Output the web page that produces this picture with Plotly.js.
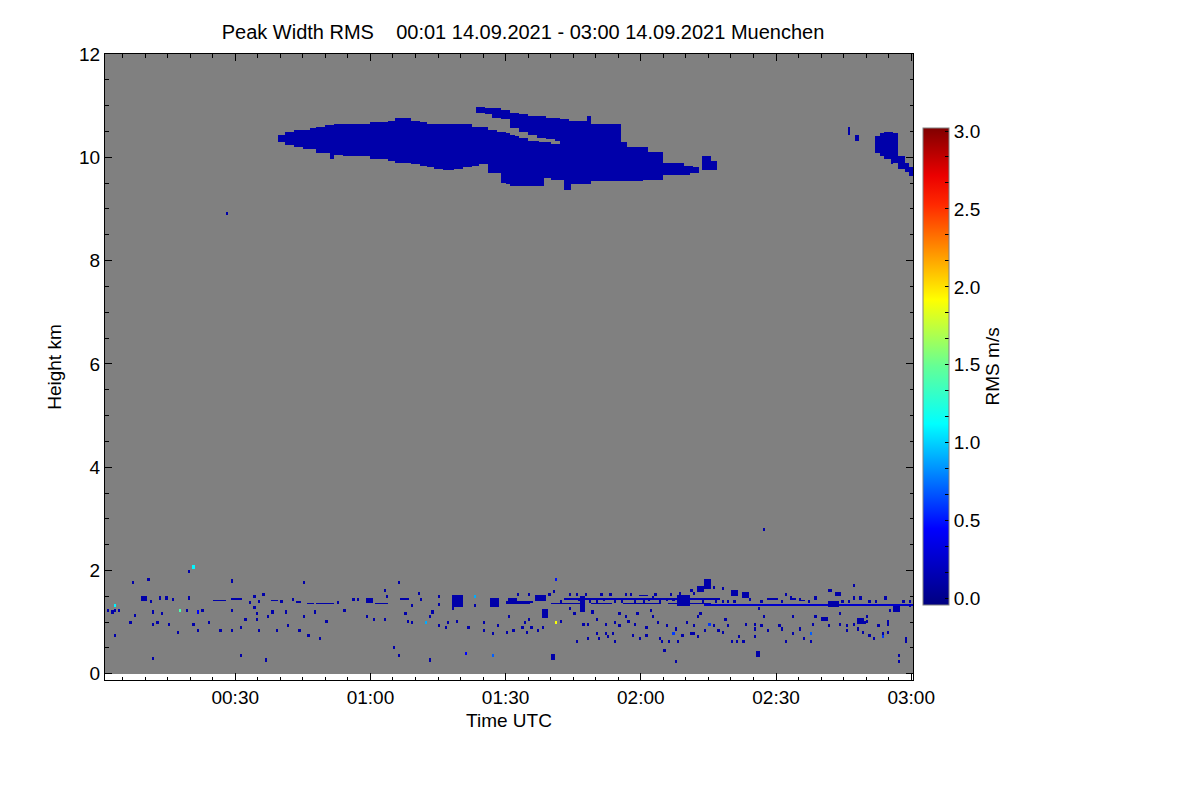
<!DOCTYPE html>
<html>
<head>
<meta charset="utf-8">
<script src="https://cdn.plot.ly/plotly-3.0.1.min.js"></script>
<style>html,body{margin:0;padding:0;background:#fff}#chart{width:1200px;height:800px}</style>
</head>
<body>
<div id="chart"></div>
<script>
// ---------------- grid of the measurement (minutes after 00:00 UTC, km) ----------------
const timeStart = 1.0, timeEnd = 180.5, timeStep = 0.5;
const heightStart = 0, heightEnd = 12, heightStep = 0.03;

// ---------------- axis tick labels ----------------
const timeTickVals = [30, 60, 90, 120, 150, 180];
const timeTickText = ['00:30', '01:00', '01:30', '02:00', '02:30', '03:00'];
const heightTickVals = [0, 2, 4, 6, 8, 10, 12];
const rmsTickMajor = [0, 0.5, 1.0, 1.5, 2.0, 2.5, 3.0];

// ---------------- cirrus layer near 10 km (step table: valid from T[i] to T[i+1]) ----------------
const cloudValue = 0.12;
const mainT    = [39.5, 41, 43, 45, 46.5, 48, 50, 50.8, 52, 54, 60, 62, 64, 65.5, 69, 71, 72.5, 74, 76, 78.5, 80.5, 82.5, 84, 85.8, 86.6, 88, 88.8, 90, 91, 92, 93, 94, 95, 96, 97.7, 98.3, 100, 102, 102.8, 104, 104.3, 107.9, 109.2, 115.4, 117, 120.6, 121.4, 125, 129.4, 131, 131.5, 133.2, 133.7, 135.5];
const mainBase = [10.30, 10.25, 10.20, 10.19, 10.17, 10.10, 10.08, 9.98, 10.06, 10.04, 9.98, 9.96, 9.95, 9.92, 9.88, 9.85, 9.81, 9.79, 9.77, 9.79, 9.83, 9.85, 9.88, 9.69, 9.69, 9.69, 9.52, 9.50, 9.46, 9.46, 9.46, 9.46, 9.46, 9.46, 9.46, 9.60, 9.59, 9.58, 9.36, 9.36, 9.48, 9.48, 9.56, 9.56, 9.56, 9.59, 9.59, 9.67, 9.67, 9.71, 9.71, null, 9.75, 9.75];
const mainTop  = [10.42, 10.48, 10.50, 10.52, 10.54, 10.58, 10.60, 10.60, 10.62, 10.62, 10.66, 10.66, 10.68, 10.76, 10.70, 10.66, 10.64, 10.62, 10.62, 10.62, 10.62, 10.58, 10.56, 10.52, 10.50, 10.48, 10.47, 10.45, 10.43, 10.40, 10.37, 10.35, 10.31, 10.30, 10.27, 10.26, 10.23, 10.72, 10.72, 10.70, 10.70, 10.79, 10.64, 10.27, 10.19, 10.19, 10.10, 9.88, 9.81, 9.81, 9.79, null, 10.00, 9.90];
const mainEnd = 137.2;

// upper arm, separated from the main layer by a clear gap
const armT    = [83.5, 85.5, 87, 89, 91, 93, 95, 97, 99, 101];
const armBase = [10.86, 10.84, 10.79, 10.74, 10.58, 10.52, 10.46, 10.40, 10.35, 10.32];
const armTop  = [10.96, 10.93, 10.93, 10.90, 10.85, 10.80, 10.79, 10.77, 10.75, 10.74];
const armEnd = 102;

// small cloud near the right edge
const rightT    = [165.8, 166.6, 167.6, 168.4, 172, 173, 174, 175.5, 176, 177.2, 178.5, 179.5];
const rightBase = [10.46, null, 10.33, null, 10.10, 10.02, 9.96, 9.88, 9.90, 9.80, 9.72, 9.65];
const rightTop  = [10.56, null, 10.42, null, 10.40, 10.46, 10.48, 10.48, 10.46, 10.00, 9.88, 9.80];
const rightEnd = 180.4;

// ---------------- boundary layer returns (0-2 km) ----------------
const darkValue = 0.12;
const darkT = [1.8, 2.5, 3.0, 4.0, 3.2, 6.6, 7.2, 7.7, 10.6, 11, 11.5, 11.5, 11.5, 12.5, 13.4, 13.9, 14.8, 15.4, 16.1, 17, 19, 19.5, 19.9, 20.6, 21.9, 22.8, 24.1, 26.6, 29.2, 29.4, 29.4, 31.4, 31.4, 32.1, 33, 34.1, 34.3, 34.8, 34.8, 35, 35.4, 36.3, 36.8, 37, 38.3, 39.2, 40.3, 41.4, 41.9, 42.8, 44.1, 45.2, 45.2, 46.4, 47.7, 48.6, 50.3, 52.8, 54.3, 56.1, 57, 59.2, 60.6, 63.2, 63.4, 63.9, 65.4, 66.1, 66.3, 67.7, 68.3, 69.2, 69.4, 70.8, 71.2, 73.2, 73.2, 73.9, 75.4, 75.4, 75.4, 76.6, 77.2, 78, 79.4, 81.9, 83.2, 85, 85.4, 87, 88, 90.3,
  100.8, 90.6, 91.7, 93.7, 94.3, 94.8, 95.4, 95.9, 97.4, 98.3, 102.1, 104.3, 105, 105.9, 107, 108.1, 108.3, 109.2, 110.3, 110.3, 110.6, 112.1, 112.1, 112.6, 113.7, 114, 114.3, 115, 115.4, 116.6, 117.3, 118.1, 118.8, 119.4, 119.9, 121, 121.4, 122.1, 122.6, 123.6, 124.3, 124.8, 125.4, 125.9, 126.2, 127.7, 127.9, 128.3, 129.4, 130.3, 131, 131.7, 131.7, 132.6, 132.8, 133.2, 134.3,
  92.5, 95, 99.5, 102, 105.5, 108.5, 111, 114, 117.5, 121.5, 123, 125.5, 126.5, 131.8, 133.5,
  134.8, 136.3, 138.3, 138, 146, 147.2, 153.2, 155.4, 161.5, 162, 167, 167.2, 168.8, 168.5, 169.5, 168.4, 169, 170, 170.2, 170.9, 172.7, 173.7, 174.8, 175, 177, 177.3, 178.8, 179.5, 136.1, 137.2, 138.3, 138.8, 139.4, 140.3, 141, 141.7, 142.8, 143, 145, 145, 145.4, 146.6, 148.3, 150.8, 151.2, 152.1, 153.7, 153.9, 155, 156.1, 157.7, 158.1, 158.7, 161.7, 164.3, 164.3, 165.9, 165.9, 167, 171.6, 174.8, 174.8, 178.8,
  104, 106, 107.8, 110, 111.5, 113, 115.5, 116.5, 118.5, 120.5, 122.5, 124, 127, 128.5, 130.5, 131, 136.5, 139, 140.5, 144, 146.5, 151, 152, 157, 158.5, 164.8, 166, 170.5, 172, 174, 178, 179.8,
  28.3, 147.2];
const darkH = [1.20, 1.18, 1.22, 1.22, 0.72, 0.98, 1.74, 1.12, 1.82, 1.39, 1.18, 0.95, 0.29, 0.97, 1.45, 1.14, 1.45, 0.95, 1.43, 0.79, 1.22, 1.97, 1.45, 0.95, 0.81, 1.20, 0.98, 0.83, 0.81, 1.22, 1.78, 0.89, 0.35, 1.02, 1.37, 1.47, 1.28, 1.14, 1.04, 0.81, 1.39, 1.51, 0.25, 1.08, 1.18, 0.81, 1.39, 1.18, 0.91, 1.43, 0.81, 1.74, 1.08, 0.72, 1.18, 0.66, 1.01, 1.35, 1.20, 1.41, 1.41, 1.08, 1.04, 1.04, 1.59, 1.49, 0.50, 0.33, 1.76, 1.14, 1.01, 1.30, 0.98, 1.55, 1.43, 1.08, 0.25, 1.18, 1.49, 1.33, 0.91, 0.89, 0.98, 1.24, 1.01, 0.89, 1.30, 0.98, 0.81, 0.75, 0.91, 0.79,
  1.57, 1.08, 0.81, 0.87, 0.98, 0.79, 1.04, 0.89, 0.81, 0.89, 1.01, 1.24, 1.14, 0.62, 0.95, 0.95, 0.66, 1.18, 1.04, 0.75, 0.66, 0.75, 0.95, 0.70, 0.75, 0.98, 0.62, 1.14, 0.91, 1.08, 1.01, 0.72, 0.93, 1.14, 0.66, 0.72, 0.89, 1.20, 1.10, 0.98, 0.66, 0.62, 0.43, 0.91, 0.62, 0.85, 0.23, 0.62, 0.72, 0.98, 0.75, 0.91, 0.75, 1.08, 0.70, 1.14, 0.81,
  1.52, 1.50, 1.50, 1.40, 1.50, 1.40, 1.52, 1.40, 1.52, 1.42, 1.52, 1.42, 1.52, 1.55, 1.40,
  1.70, 1.66, 1.62, 1.40, 1.25, 1.10, 1.46, 1.41, 1.60, 1.60, 1.68, 1.46, 1.46, 1.04, 0.98, 0.85, 0.78, 1.00, 1.08, 0.72, 0.91, 0.75, 0.95, 1.20, 0.33, 0.21, 0.62, 1.40, 0.91, 0.81, 0.79, 1.04, 0.91, 0.62, 0.62, 0.70, 0.62, 0.95, 0.95, 0.85, 0.70, 0.91, 0.81, 0.91, 0.85, 0.62, 0.75, 1.10, 0.85, 0.66, 0.62, 0.95, 1.08, 0.91, 1.14, 0.95, 0.81, 0.91, 0.95, 0.66, 0.79, 1.01, 0.66,
  1.50, 1.42, 1.52, 1.38, 1.42, 1.50, 1.38, 1.52, 1.40, 1.38, 1.45, 1.38, 1.42, 1.55, 1.38, 1.60, 1.38, 1.40, 1.38, 1.42, 1.40, 1.38, 1.50, 1.38, 1.45, 1.38, 1.40, 1.40, 1.38, 1.44, 1.40, 1.30,
  8.90, 2.77];

// brighter single returns
const specialT = [3.4, 17.9, 20.8, 21.7, 72.1, 81, 83.2, 87.2, 101.4, 101.4, 127.2, 135.4, 173.9, 157.7];
const specialH = [1.30, 1.22, 2.05, 1.18, 0.98, 0.38, 1.47, 0.33, 1.82, 0.98, 0.75, 0.95, 0.70, 0.75];
const specialV = [1.10, 1.40, 1.10, 0.45, 0.90, 0.45, 0.90, 0.70, 0.50, 1.90, 0.60, 0.60, 0.60, 0.70];

// horizontal streaks (start, end, height, value)
const streakT0 = [25.4, 29.4, 38, 43.7, 46.1, 48, 61.4, 66.6, 90, 94.3, 103.2, 90, 100, 109, 116, 126, 134.3, 134.3, 148.3, 153, 155, 119.5];
const streakT1 = [27.7, 31.4, 39.2, 44.3, 47.2, 51.7, 63.7, 68, 93.7, 95.9, 135.4, 95, 106, 113, 124, 135, 180.4, 137, 150.3, 154, 156, 121];
const streakH  = [1.43, 1.45, 1.42, 1.40, 1.37, 1.35, 1.35, 1.45, 1.40, 1.38, 1.46, 1.35, 1.35, 1.35, 1.35, 1.35, 1.33, 1.45, 1.45, 1.46, 1.41, 1.50];
const streakV  = [0.12, 0.12, 0.12, 0.12, 0.12, 0.12, 0.12, 0.12, 0.12, 0.12, 0.15, 0.12, 0.12, 0.12, 0.12, 0.12, 0.25, 0.12, 0.12, 0.12, 0.12, 0.12];

// dense patches (start, end, bottom, top)
const patchT0 = [9.2, 59.4, 78.3, 86.5, 96.6, 98.0, 106.6, 128.0, 134.3, 132.5, 140.0, 142.5, 161.5, 160.3, 163.3, 168.3, 176.0, 100.4, 145.7, 90.5];
const patchT1 = [10.0, 60.4, 80.3, 88.0, 98.8, 99.2, 107.2, 130.5, 135.3, 133.5, 141.0, 143.5, 163.5, 161.0, 164.0, 169.3, 177.0, 100.9, 146.2, 92.0];
const patchH0 = [1.43, 1.39, 1.30, 1.30, 1.43, 1.10, 1.22, 1.32, 1.66, 1.60, 1.50, 1.48, 1.30, 1.02, 1.52, 0.98, 1.20, 0.28, 0.34, 1.36];
const patchH1 = [1.49, 1.46, 1.50, 1.45, 1.52, 1.24, 1.49, 1.50, 1.80, 1.70, 1.60, 1.58, 1.40, 1.10, 1.58, 1.06, 1.30, 0.36, 0.44, 1.46];

// ---------------- colours ----------------
const noSignalGray = 'rgb(128,128,128)';
const rmsColorscale = [[0, 'rgb(0,0,128)'], [0.16, 'rgb(0,0,255)'], [0.38, 'rgb(0,255,255)'], [0.5, 'rgb(100,255,150)'], [0.64, 'rgb(255,255,0)'], [0.84, 'rgb(255,40,0)'], [0.9, 'rgb(235,0,0)'], [1, 'rgb(128,0,0)']];

// ---------------- build the z matrix ----------------
const nT = Math.round((timeEnd - timeStart) / timeStep);
const nH = Math.round((heightEnd - heightStart) / heightStep);
const xEdges = Array.from({length: nT + 1}, (_, i) => timeStart + i * timeStep);
const yEdges = Array.from({length: nH + 1}, (_, j) => heightStart + j * heightStep);
const z = Array.from({length: nH}, () => new Array(nT).fill(null));
const zBackground = Array.from({length: nH}, () => new Array(nT).fill(1));
const col = t => Math.floor((t - timeStart) / timeStep + 1e-9);
const row = h => Math.floor((h - heightStart) / heightStep + 1e-9);
function setCell(i, j, v) { if (i >= 0 && i < nT && j >= 0 && j < nH) z[j][i] = v; }
function fillLayer(T, B, Tp, end, v) {
  for (let i = 0; i < nT; i++) {
    const tc = timeStart + (i + 0.5) * timeStep;
    if (tc < T[0] || tc >= end) continue;
    let k = 0;
    while (k + 1 < T.length && T[k + 1] <= tc) k++;
    if (B[k] == null) continue;
    for (let j = row(B[k]); j <= row(Tp[k]); j++) setCell(i, j, v);
  }
}
fillLayer(mainT, mainBase, mainTop, mainEnd, cloudValue);
fillLayer(armT, armBase, armTop, armEnd, cloudValue);
fillLayer(rightT, rightBase, rightTop, rightEnd, cloudValue);
for (let k = 0; k < streakT0.length; k++)
  for (let i = col(streakT0[k]); i <= col(streakT1[k]); i++) setCell(i, row(streakH[k]), streakV[k]);
for (let k = 0; k < patchT0.length; k++)
  for (let i = col(patchT0[k]); i <= col(patchT1[k]); i++)
    for (let j = row(patchH0[k]); j <= row(patchH1[k]); j++) setCell(i, j, darkValue);
for (let k = 0; k < darkT.length; k++) {
  setCell(col(darkT[k]), row(darkH[k]), darkValue);
  setCell(col(darkT[k]), row(darkH[k]) + 1, darkValue);
}
for (let k = 0; k < specialT.length; k++) {
  setCell(col(specialT[k]), row(specialH[k]), specialV[k]);
  setCell(col(specialT[k]), row(specialH[k]) + 1, specialV[k]);
}

// ---------------- traces ----------------
const background = {
  type: 'heatmap', x: xEdges, y: yEdges, z: zBackground, zsmooth: false,
  colorscale: [[0, noSignalGray], [1, noSignalGray]], showscale: false, hoverinfo: 'skip'
};
const rmsTickVals = Array.from({length: 19}, (_, k) => k / 6);
const rmsTickText = rmsTickVals.map(v => {
  const m = rmsTickMajor.find(t => Math.abs(t - v) < 1e-6);
  return m === undefined ? '' : m.toFixed(1);
});
const rms = {
  type: 'heatmap', x: xEdges, y: yEdges, z: z, zmin: -0.04, zmax: 3.02, zsmooth: false,
  colorscale: rmsColorscale, hoverongaps: false,
  colorbar: {
    x: 1.012, xanchor: 'left', xpad: 0, y: 0.12, yanchor: 'bottom', ypad: 0,
    len: 0.762, lenmode: 'fraction', thickness: 26, thicknessmode: 'pixels',
    outlinewidth: 1, outlinecolor: '#808080',
    tickmode: 'array', tickvals: rmsTickVals, ticktext: rmsTickText,
    ticks: 'inside', ticklen: 4, tickwidth: 1, tickcolor: '#000',
    tickfont: {size: 19, color: '#000'},
    title: {text: 'RMS m/s', side: 'right', font: {size: 19, color: '#000'}}
  }
};

const axisCommon = {
  showline: true, linecolor: '#000', linewidth: 1, mirror: 'allticks',
  ticks: 'inside', ticklen: 7, tickwidth: 1, tickcolor: '#000',
  showgrid: false, zeroline: false, tickfont: {size: 19, color: '#000'}
};

const layout = {
  width: 1200, height: 800,
  margin: {l: 105, r: 287, t: 54, b: 120, pad: 0},
  paper_bgcolor: '#fff', plot_bgcolor: '#fff',
  font: {family: 'Liberation Sans, Arial, sans-serif', size: 19, color: '#000'},
  title: {
    text: 'Peak Width RMS\u00a0\u00a0\u00a0 00:01 14.09.2021 - 03:00 14.09.2021 Muenchen',
    xref: 'container', x: 523 / 1200, xanchor: 'center',
    yref: 'container', y: 1 - 32 / 800, yanchor: 'middle',
    font: {size: 20, color: '#000'}
  },
  xaxis: Object.assign({}, axisCommon, {
    range: [1.1, 180.4], tickmode: 'array', tickvals: timeTickVals, ticktext: timeTickText,
    minor: {tick0: 0, dtick: 5, ticks: 'inside', ticklen: 3.5, tickcolor: '#000', tickwidth: 1},
    title: {text: 'Time UTC', standoff: 6, font: {size: 19, color: '#000'}}
  }),
  yaxis: Object.assign({}, axisCommon, {
    range: [-0.12, 12], tickmode: 'array', tickvals: heightTickVals,
    minor: {tick0: 0, dtick: 0.5, ticks: 'inside', ticklen: 3.5, tickcolor: '#000', tickwidth: 1},
    title: {text: 'Height km', standoff: 12, font: {size: 19, color: '#000'}}
  })
};

Plotly.newPlot('chart', [background, rms], layout, {displayModeBar: false, staticPlot: true});
</script>
</body>
</html>
